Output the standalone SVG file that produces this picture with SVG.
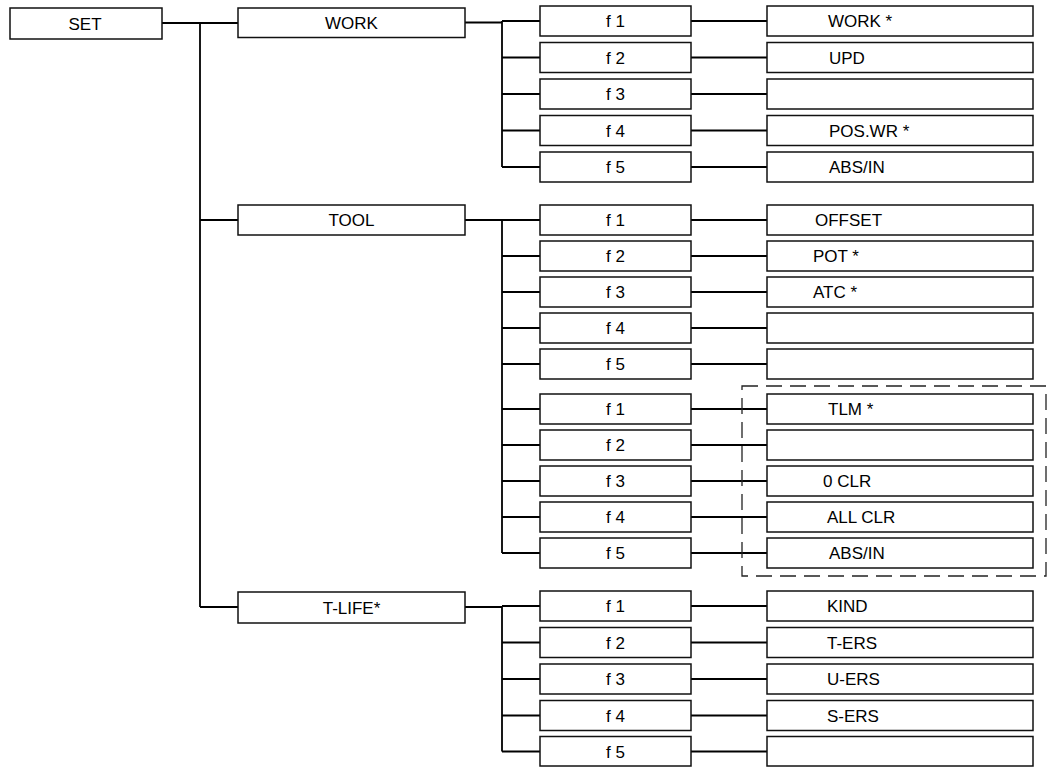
<svg xmlns="http://www.w3.org/2000/svg" width="1048" height="767" viewBox="0 0 1048 767">
<style>
.box{fill:#fff;stroke:#111;stroke-width:1.5}
.t{font-family:"Liberation Sans",Arial,sans-serif;font-size:17px;fill:#000}
.c{text-anchor:middle}
.l{text-anchor:start}
.ln{fill:none;stroke:#000;stroke-width:1.8}
.dash{fill:none;stroke:#222;stroke-width:1.3;stroke-dasharray:16 8}
</style>
<rect width="1048" height="767" fill="#fff"/>
<g id="connectors">
<path class="ln" d="M162 23H200M200 23V607M200 23H238M200 220H238M200 607H238"/>
<path class="ln" d="M465 22.5H502M502 21V167M502 21H540M502 57.5H540M502 94H540M502 130.5H540M502 167H540"/>
<path class="ln" d="M691 21H767M691 57.5H767M691 94H767M691 130.5H767M691 167H767"/>
<path class="ln" d="M465 220H502M502 220V553M502 220H540M502 256H540M502 292H540M502 328H540M502 364H540M502 409H540M502 445H540M502 481H540M502 517H540M502 553H540"/>
<path class="ln" d="M691 220H767M691 256H767M691 292H767M691 328H767M691 364H767M691 409H767M691 445H767M691 481H767M691 517H767M691 553H767"/>
<path class="ln" d="M465 607H502M502 606V751.5M502 606H540M502 642.5H540M502 679H540M502 715.5H540M502 751.5H540"/>
<path class="ln" d="M691 606H767M691 642.5H767M691 679H767M691 715.5H767M691 751.5H767"/>
</g>
<g id="dashed-frame"><rect class="dash" x="742" y="386" width="304" height="190"/></g>
<g id="set"><rect class="box" x="10" y="8" width="152" height="31"/><text class="t c" x="85" y="29.5">SET</text></g>
<g id="work"><rect class="box" x="238" y="8" width="227" height="29.5"/><text class="t c" x="351.5" y="28.5">WORK</text></g>
<g id="tool"><rect class="box" x="238" y="205" width="227" height="30"/><text class="t c" x="351.5" y="226">TOOL</text></g>
<g id="tlife"><rect class="box" x="238" y="592" width="227" height="31"/><text class="t c" x="351.5" y="613.5">T-LIFE*</text></g>

<g id="work-f1"><rect class="box" x="540" y="6" width="151" height="30"/><text class="t c" x="615.5" y="27">f 1</text></g>
<g id="work-f2"><rect class="box" x="540" y="42.5" width="151" height="30"/><text class="t c" x="615.5" y="63.5">f 2</text></g>
<g id="work-f3"><rect class="box" x="540" y="79" width="151" height="30"/><text class="t c" x="615.5" y="100">f 3</text></g>
<g id="work-f4"><rect class="box" x="540" y="115.5" width="151" height="30"/><text class="t c" x="615.5" y="136.5">f 4</text></g>
<g id="work-f5"><rect class="box" x="540" y="152" width="151" height="30"/><text class="t c" x="615.5" y="173">f 5</text></g>
<g id="work-r1"><rect class="box" x="767" y="6" width="266" height="30"/><text class="t l" x="828" y="27">WORK *</text></g>
<g id="work-r2"><rect class="box" x="767" y="42.5" width="266" height="30"/><text class="t l" x="829" y="63.5">UPD</text></g>
<g id="work-r3"><rect class="box" x="767" y="79" width="266" height="30"/></g>
<g id="work-r4"><rect class="box" x="767" y="115.5" width="266" height="30"/><text class="t l" x="829" y="136.5">POS.WR *</text></g>
<g id="work-r5"><rect class="box" x="767" y="152" width="266" height="30"/><text class="t l" x="829" y="173">ABS/IN</text></g>

<g id="tool-f1"><rect class="box" x="540" y="205" width="151" height="30"/><text class="t c" x="615.5" y="226">f 1</text></g>
<g id="tool-f2"><rect class="box" x="540" y="241" width="151" height="30"/><text class="t c" x="615.5" y="262">f 2</text></g>
<g id="tool-f3"><rect class="box" x="540" y="277" width="151" height="30"/><text class="t c" x="615.5" y="298">f 3</text></g>
<g id="tool-f4"><rect class="box" x="540" y="313" width="151" height="30"/><text class="t c" x="615.5" y="334">f 4</text></g>
<g id="tool-f5"><rect class="box" x="540" y="349" width="151" height="30"/><text class="t c" x="615.5" y="370">f 5</text></g>
<g id="tool-r1"><rect class="box" x="767" y="205" width="266" height="30"/><text class="t l" x="815" y="226">OFFSET</text></g>
<g id="tool-r2"><rect class="box" x="767" y="241" width="266" height="30"/><text class="t l" x="813" y="262">POT *</text></g>
<g id="tool-r3"><rect class="box" x="767" y="277" width="266" height="30"/><text class="t l" x="813" y="298">ATC *</text></g>
<g id="tool-r4"><rect class="box" x="767" y="313" width="266" height="30"/></g>
<g id="tool-r5"><rect class="box" x="767" y="349" width="266" height="30"/></g>

<g id="tool2-f1"><rect class="box" x="540" y="394" width="151" height="30"/><text class="t c" x="615.5" y="415">f 1</text></g>
<g id="tool2-f2"><rect class="box" x="540" y="430" width="151" height="30"/><text class="t c" x="615.5" y="451">f 2</text></g>
<g id="tool2-f3"><rect class="box" x="540" y="466" width="151" height="30"/><text class="t c" x="615.5" y="487">f 3</text></g>
<g id="tool2-f4"><rect class="box" x="540" y="502" width="151" height="30"/><text class="t c" x="615.5" y="523">f 4</text></g>
<g id="tool2-f5"><rect class="box" x="540" y="538" width="151" height="30"/><text class="t c" x="615.5" y="559">f 5</text></g>
<g id="tool2-r1"><rect class="box" x="767" y="394" width="266" height="30"/><text class="t l" x="828" y="415">TLM *</text></g>
<g id="tool2-r2"><rect class="box" x="767" y="430" width="266" height="30"/></g>
<g id="tool2-r3"><rect class="box" x="767" y="466" width="266" height="30"/><text class="t l" x="823" y="487">0 CLR</text></g>
<g id="tool2-r4"><rect class="box" x="767" y="502" width="266" height="30"/><text class="t l" x="827" y="523">ALL CLR</text></g>
<g id="tool2-r5"><rect class="box" x="767" y="538" width="266" height="30"/><text class="t l" x="829" y="559">ABS/IN</text></g>

<g id="tlife-f1"><rect class="box" x="540" y="591" width="151" height="30"/><text class="t c" x="615.5" y="612">f 1</text></g>
<g id="tlife-f2"><rect class="box" x="540" y="627.5" width="151" height="30"/><text class="t c" x="615.5" y="648.5">f 2</text></g>
<g id="tlife-f3"><rect class="box" x="540" y="664" width="151" height="30"/><text class="t c" x="615.5" y="685">f 3</text></g>
<g id="tlife-f4"><rect class="box" x="540" y="700.5" width="151" height="30"/><text class="t c" x="615.5" y="721.5">f 4</text></g>
<g id="tlife-f5"><rect class="box" x="540" y="736.5" width="151" height="29.5"/><text class="t c" x="615.5" y="757.5">f 5</text></g>
<g id="tlife-r1"><rect class="box" x="767" y="591" width="266" height="30"/><text class="t l" x="827" y="612">KIND</text></g>
<g id="tlife-r2"><rect class="box" x="767" y="627.5" width="266" height="30"/><text class="t l" x="827" y="648.5">T-ERS</text></g>
<g id="tlife-r3"><rect class="box" x="767" y="664" width="266" height="30"/><text class="t l" x="827" y="685">U-ERS</text></g>
<g id="tlife-r4"><rect class="box" x="767" y="700.5" width="266" height="30"/><text class="t l" x="827" y="721.5">S-ERS</text></g>
<g id="tlife-r5"><rect class="box" x="767" y="736.5" width="266" height="29.5"/></g>
</svg>
